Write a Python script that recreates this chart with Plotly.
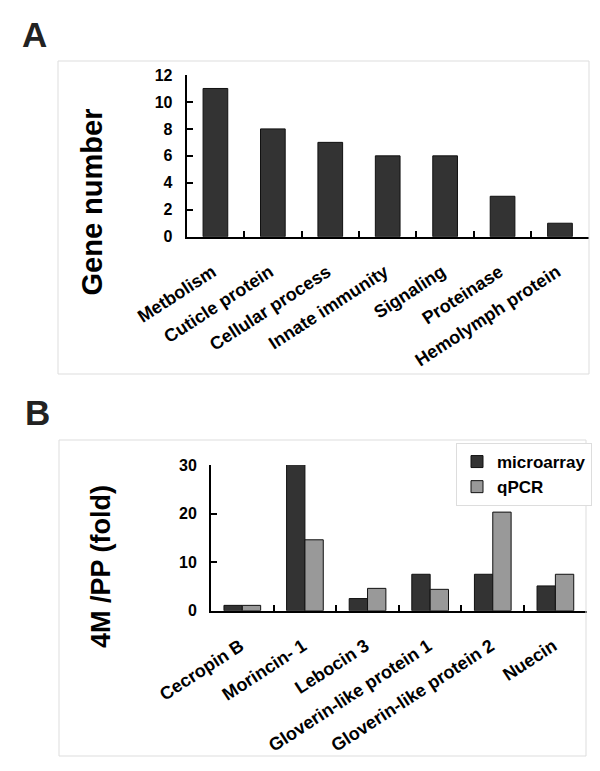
import plotly.graph_objects as go

# the page body keeps its default 8px margin, so the figure is drawn 8px in
W, H = 592, 763
OFF = 8

# panel A data
categories_a = ['Metbolism', 'Cuticle protein', 'Cellular process', 'Innate immunity',
                'Signaling', 'Proteinase', 'Hemolymph protein']
gene_number = [11, 8, 7, 6, 6, 3, 1]

# panel B data
genes_b = ['Cecropin B', 'Morincin- 1', 'Lebocin 3', 'Gloverin-like protein 1',
           'Gloverin-like protein 2', 'Nuecin']
microarray = [1.1, 30.3, 2.5, 7.5, 7.5, 5.1]
qpcr = [1.1, 14.6, 4.6, 4.4, 20.3, 7.5]


def px_x(v):
    return (v - OFF) / W


def px_y(v):
    return 1 - (v - OFF) / H


FONT = 'Liberation Sans, Arial, sans-serif'

fig = go.Figure()

fig.add_trace(go.Bar(
    x=categories_a, y=gene_number, width=0.43,
    marker=dict(color='#333333', line=dict(color='#111111', width=1)),
    showlegend=False, xaxis='x', yaxis='y', cliponaxis=False,
))

fig.add_trace(go.Bar(
    x=genes_b, y=microarray, name='microarray',
    marker=dict(color='#333333', line=dict(color='#111111', width=1)),
    xaxis='x2', yaxis='y2', cliponaxis=False,
))
fig.add_trace(go.Bar(
    x=genes_b, y=qpcr, name='qPCR',
    marker=dict(color='#999999', line=dict(color='#111111', width=1)),
    xaxis='x2', yaxis='y2', cliponaxis=False,
))

ytickfont = dict(family=FONT, size=16, color='#000000', weight='bold')
xtickfont = dict(family=FONT, size=18, color='#000000', weight='bold')

xcommon = dict(
    type='category', showline=True, linecolor='#000000', linewidth=2,
    ticks='inside', tickson='boundaries', ticklen=6, tickwidth=2, tickcolor='#000000',
    showgrid=False, zeroline=False, tickfont=xtickfont, automargin=False,
)
ycommon = dict(
    showline=True, linecolor='#000000', linewidth=2,
    ticks='inside', ticklen=6, tickwidth=2, tickcolor='#000000',
    showgrid=False, zeroline=False, tickfont=ytickfont, ticklabelstandoff=9,
    automargin=False,
)


def label(text, x, y, size, color='#000000', angle=0):
    return dict(text=text, x=px_x(x), y=px_y(y), xref='paper', yref='paper',
                xanchor='center', yanchor='middle', textangle=angle, showarrow=False,
                font=dict(family=FONT, size=size, color=color, weight='bold'))


fig.update_layout(
    width=W, height=H,
    margin=dict(l=0, r=0, t=0, b=0, autoexpand=False),
    paper_bgcolor='white', plot_bgcolor='white',
    barmode='group', bargap=0.414, bargroupgap=0,
    font=dict(family=FONT, color='#000000'),
    xaxis=dict(xcommon, domain=[px_x(186.7), px_x(588.7)], anchor='y',
               tickangle=-33, ticklabelshift=-3, ticklabelstandoff=16),
    yaxis=dict(ycommon, domain=[px_y(236.7), px_y(75)], anchor='x',
               range=[0, 12], dtick=2),
    xaxis2=dict(xcommon, domain=[px_x(211), px_x(586.7)], anchor='y2',
                tickangle=-33, ticklabelshift=-2, ticklabelstandoff=16),
    yaxis2=dict(ycommon, domain=[px_y(610.7), px_y(465)], anchor='x2',
                range=[0, 30], dtick=10),
    legend=dict(
        x=px_x(456), y=px_y(443), xanchor='left', yanchor='top',
        bgcolor='white', bordercolor='#dddddd', borderwidth=1,
        itemwidth=30, tracegroupgap=0,
        font=dict(family=FONT, size=17, color='#000000', weight='bold'),
    ),
    shapes=[
        dict(type='rect', xref='paper', yref='paper',
             x0=px_x(58), x1=px_x(589), y0=px_y(374), y1=px_y(61),
             line=dict(color='#dddddd', width=1)),
        dict(type='rect', xref='paper', yref='paper',
             x0=px_x(59), x1=px_x(586), y0=px_y(756), y1=px_y(440),
             line=dict(color='#dddddd', width=1)),
    ],
    annotations=[
        label('A', 34.5, 35, 35, '#222222'),
        label('B', 37.5, 412, 35, '#222222'),
        label('Gene number', 92, 202.5, 29, angle=-90),
        label('4M /PP (fold)', 101, 567, 27, angle=-90),
    ],
)

fig.write_html('out.html')
